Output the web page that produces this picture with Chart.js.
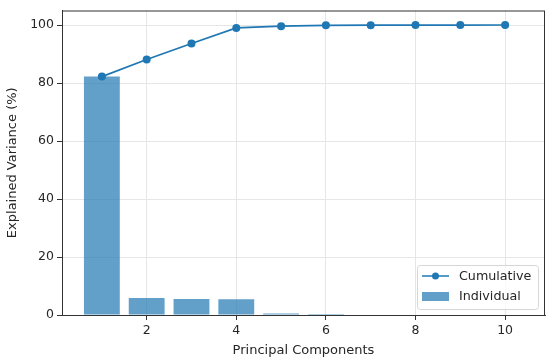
<!DOCTYPE html>
<html>
<head>
<meta charset="utf-8">
<script src="https://cdn.jsdelivr.net/npm/chart.js@4.4.1/dist/chart.umd.min.js"></script>
<style>
  html, body { margin: 0; padding: 0; background: #fff; }
  #wrap { width: 550px; height: 361px; }
</style>
</head>
<body>
<div id="wrap"><canvas id="pca" width="550" height="361"></canvas></div>
<script>
// explained variance per component
var components = [1, 2, 3, 4, 5, 6, 7, 8, 9, 10];
var individual = [82.2, 5.9, 5.5, 5.4, 0.5, 0.35, 0, 0, 0, 0];
var cumulative = [82.2, 88.1, 93.6, 99.0, 99.6, 99.9, 99.95, 99.98, 99.99, 100];
var xTicks = [2, 4, 6, 8, 10];
var yTicks = [0, 20, 40, 60, 80, 100];

var blue = '#1f77b4';
var barBlue = 'rgba(31,119,180,0.7)';
var textCol = '#262626';
var font = { family: 'DejaVu Sans', size: 12.5 };
var titleFont = { family: 'DejaVu Sans', size: 13 };

function pts(vals) {
	return components.map(function(c, i) { return { x: c, y: vals[i] }; });
}

// full box round the axes + the legend in the lower right corner
var framePlugin = {
	id: 'frame',
	afterDraw: function(chart) {
		var ctx = chart.ctx, a = chart.chartArea;
		ctx.save();
		ctx.strokeStyle = '#333';
		ctx.lineWidth = 1;
		ctx.strokeRect(a.left + 0.5, a.top + 0.5, a.right - a.left - 1, a.bottom - a.top);

		var lx = 417, ly = 265, lw = 121, lh = 44;
		ctx.fillStyle = 'rgba(255,255,255,0.8)';
		ctx.strokeStyle = '#d6d6d6';
		ctx.beginPath();
		ctx.roundRect(lx + 0.5, ly + 0.5, lw, lh, 3);
		ctx.fill();
		ctx.stroke();

		// line + marker entry
		ctx.strokeStyle = blue;
		ctx.lineWidth = 1.5;
		ctx.beginPath();
		ctx.moveTo(lx + 5, ly + 11);
		ctx.lineTo(lx + 32, ly + 11);
		ctx.stroke();
		ctx.fillStyle = blue;
		ctx.beginPath();
		ctx.arc(lx + 18.5, ly + 11, 3.5, 0, Math.PI * 2);
		ctx.fill();
		// bar entry
		ctx.fillStyle = barBlue;
		ctx.fillRect(lx + 5, ly + 27, 27, 9);

		ctx.fillStyle = textCol;
		ctx.font = '12.7px "DejaVu Sans"';
		ctx.textBaseline = 'middle';
		ctx.fillText('Cumulative', lx + 42, ly + 12);
		ctx.fillText('Individual', lx + 42, ly + 32);
		ctx.restore();
	}
};

new Chart(document.getElementById('pca').getContext('2d'), {
	type: 'bar',
	data: {
		datasets: [{
			type: 'line',
			label: 'Cumulative',
			data: pts(cumulative),
			borderColor: blue,
			backgroundColor: blue,
			borderWidth: 1.7,
			pointRadius: 4,
			pointBackgroundColor: blue,
			pointBorderWidth: 0,
			fill: false,
			order: 0
		}, {
			type: 'bar',
			label: 'Individual',
			data: pts(individual),
			backgroundColor: barBlue,
			borderWidth: 0,
			barPercentage: 0.8,
			categoryPercentage: 1.0,
			order: 1
		}]
	},
	options: {
		responsive: false,
		animation: false,
		layout: { padding: { top: 7, right: 5, left: 0, bottom: 0 } },
		plugins: {
			legend: { display: false },
			tooltip: { enabled: false }
		},
		scales: {
			x: {
				type: 'linear',
				offset: false,
				min: 0.11,
				max: 10.89,
				afterBuildTicks: function(s) { s.ticks = xTicks.map(function(v) { return { value: v }; }); },
				afterFit: function(s) { s.height = 46; },
				grid: { color: '#e6e6e6', tickColor: '#333', tickLength: 5, offset: false },
				border: { color: '#333' },
				ticks: { color: textCol, font: font, padding: 3, maxRotation: 0 },
				title: { display: true, text: 'Principal Components', color: textCol, font: titleFont, padding: { top: 2, bottom: 3 } }
			},
			y: {
				min: 0,
				max: 105,
				afterBuildTicks: function(s) { s.ticks = yTicks.map(function(v) { return { value: v }; }); },
				afterFit: function(s) { s.width = 62; },
				grid: { color: '#e6e6e6', tickColor: '#333', tickLength: 5 },
				border: { color: '#333' },
				ticks: { color: textCol, font: font, padding: 3 },
				title: { display: true, text: 'Explained Variance (%)', color: textCol, font: titleFont, padding: { top: 5, bottom: 4 } }
			}
		}
	},
	plugins: [framePlugin]
});
</script>
</body>
</html>
